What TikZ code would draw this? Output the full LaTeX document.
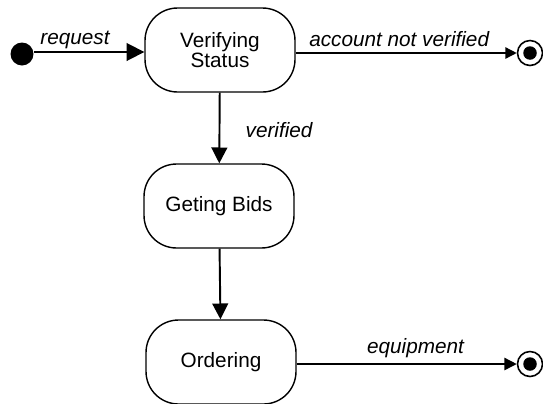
\documentclass[tikz,border=0pt]{standalone}
\usepackage{fontspec}
\setmainfont{Liberation Sans}
\usepackage{tikz}
\usetikzlibrary{arrows.meta,positioning}

\tikzset{
  state/.style={draw, line width=0.8pt, rounded corners=0.65cm, minimum width=3cm,
    minimum height=1.68cm, align=center, font=\fontsize{11.8}{11.6}\selectfont},
  initial/.style={circle, fill, inner sep=0pt, minimum size=0.46cm},
  final/.style={circle, draw, line width=0.9pt, inner sep=0pt, minimum size=0.5cm,
    path picture={\fill (path picture bounding box.center) circle (0.135cm);}},
  trans/.style={-{Triangle[length=#1,width=#1]}},
  trans/.default=7pt,
  lbl/.style={font=\fontsize{11.8}{13}\selectfont\itshape}
}

\begin{document}
\begin{tikzpicture}[x=0.02cm,y=-0.02cm]
  \useasboundingbox (0,0) rectangle (543,403);

  \node[initial] (start) at (22,54) {};
  \node[state] (verify) at (220,50) {Verifying\\Status};
  \node[state] (bids) at (219,206) {Geting Bids};
  \node[state] (order) at (221,362) {Ordering};
  \node[final] (end1) at (530,53) {};
  \node[final] (end2) at (530,364) {};

  \draw[trans=10pt, line width=1pt] (start.east |- 0,52) -- node[lbl, above, xshift=-8pt, yshift=-2pt] {request} (verify.west |- 0,52);
  \draw[trans=6.5pt, line width=0.8pt] (verify.east |- end1) -- node[lbl, above, xshift=-4pt] {account not verified} (end1);
  \draw[trans=9pt, line width=1.1pt] (verify) -- node[lbl, right, xshift=11pt, yshift=-1pt] {verified} (bids);
  \draw[trans=9pt, line width=1.1pt] (bids) -- (order);
  \draw[trans=7pt, line width=0.8pt] (order.east |- end2) -- node[lbl, above, xshift=5pt] {equipment} (end2);
\end{tikzpicture}
\end{document}
